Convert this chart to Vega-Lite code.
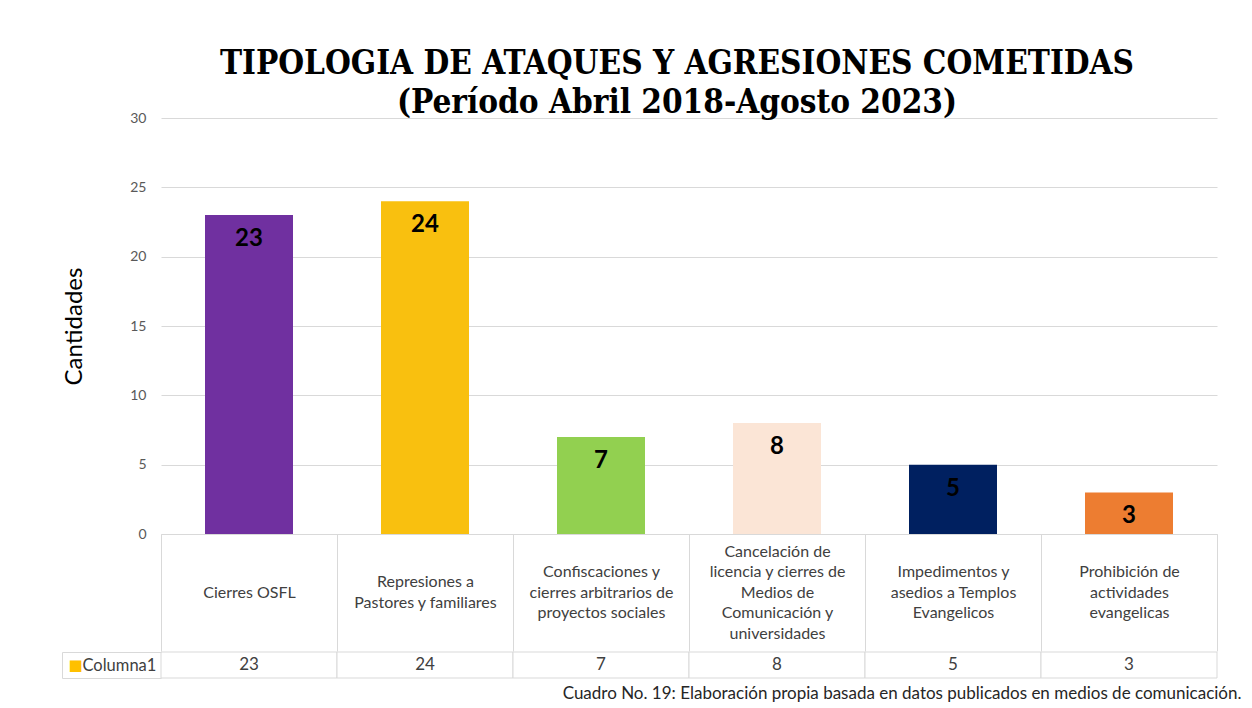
{
  "$schema": "https://vega.github.io/schema/vega-lite/v6.json",
  "padding": {"left": 61, "top": 48, "right": 0, "bottom": 0},
  "background": "white",
  "config": {
    "font": "Lato",
    "view": {"stroke": null},
    "concat": {"spacing": 0}
  },
  "data": {
    "values": [
      {"categoria": "Cierres OSFL", "cantidad": 23, "serie": "Columna1"},
      {"categoria": "Represiones a\nPastores y familiares", "cantidad": 24, "serie": "Columna1"},
      {"categoria": "Confiscaciones y\ncierres arbitrarios de\nproyectos sociales", "cantidad": 7, "serie": "Columna1"},
      {"categoria": "Cancelación de\nlicencia y cierres de\nMedios de\nComunicación y\nuniversidades", "cantidad": 8, "serie": "Columna1"},
      {"categoria": "Impedimentos y\nasedios a Templos\nEvangelicos", "cantidad": 5, "serie": "Columna1"},
      {"categoria": "Prohibición de\nactividades\nevangelicas", "cantidad": 3, "serie": "Columna1"}
    ]
  },
  "spacing": -10,
  "vconcat": [
    {
      "width": 1056,
      "height": 416,
      "title": {
        "text": ["TIPOLOGIA DE ATAQUES Y AGRESIONES COMETIDAS", "(Período Abril 2018-Agosto 2023)"],
        "anchor": "middle",
        "font": "DejaVu Serif Condensed",
        "fontWeight": "bold",
        "fontSize": 33,
        "lineHeight": 39,
        "color": "black",
        "offset": -9,
        "dx": -12
      },
      "encoding": {
        "x": {
          "field": "categoria",
          "type": "nominal",
          "sort": null,
          "scale": {"paddingInner": 0, "paddingOuter": 0},
          "axis": {
            "title": null,
            "labelAngle": 0,
            "labelExpr": "split(datum.label, '\\n')",
            "labelBaseline": "middle",
            "labelPadding": -59,
            "labelFontSize": 16,
            "labelColor": "#404040",
            "labelLineHeight": 20.5,
            "labelOverlap": false,
            "labelLimit": 0,
            "tickBand": "extent",
            "tickSize": 117,
            "tickColor": "#D9D9D9",
            "domainColor": "#D9D9D9",
            "encoding": {
              "labels": {
                "dy": {"value": {"expr": "-(length(split(datum.value, '\\n')) - 1) * 10.25"}}
              }
            }
          }
        }
      },
      "layer": [
        {
          "mark": {"type": "bar", "width": {"band": 0.5}},
          "encoding": {
            "y": {
              "field": "cantidad",
              "type": "quantitative",
              "scale": {"domain": [0, 30], "nice": false},
              "axis": {
                "title": "Cantidades",
                "titleFontSize": 24,
                "titleFontWeight": "normal",
                "titleColor": "#000000",
                "titlePadding": 43,
                "values": [0, 5, 10, 15, 20, 25, 30],
                "domain": false,
                "ticks": false,
                "labelPadding": 15,
                "labelFontSize": 14,
                "labelColor": "#595959",
                "grid": true,
                "gridColor": "#D9D9D9"
              }
            },
            "color": {
              "field": "categoria",
              "type": "nominal",
              "sort": null,
              "legend": null,
              "scale": {
                "range": ["#7030A0", "#F9C00F", "#92D050", "#FBE5D6", "#002060", "#ED7D31"]
              }
            }
          }
        },
        {
          "mark": {"type": "text", "baseline": "middle", "dy": 24, "fontSize": 24, "fontWeight": "bold", "color": "#000000"},
          "encoding": {
            "y": {"field": "cantidad", "type": "quantitative"},
            "text": {"field": "cantidad", "type": "quantitative"}
          }
        }
      ]
    },
    {
      "width": 1056,
      "height": 26,
      "title": {
        "text": "Cuadro No. 19: Elaboración propia basada en datos publicados en medios de comunicación.",
        "orient": "bottom",
        "anchor": "end",
        "fontSize": 17,
        "fontWeight": "normal",
        "color": "#262626",
        "offset": 7,
        "dx": 24
      },
      "encoding": {
        "x": {
          "field": "categoria",
          "type": "nominal",
          "sort": null,
          "scale": {"paddingInner": 0, "paddingOuter": 0},
          "axis": null
        }
      },
      "resolve": {"axis": {"y": "independent"}},
      "layer": [
        {
          "mark": {"type": "rect", "fill": "white", "stroke": "#D9D9D9", "strokeWidth": 1},
          "encoding": {
            "y": {
              "field": "serie",
              "type": "nominal",
              "scale": {"paddingInner": 0, "paddingOuter": 0},
              "axis": {
                "orient": "left",
                "title": null,
                "labelAlign": "left",
                "labelBaseline": "middle",
                "labelPadding": -20,
                "labelFontSize": 16.5,
                "labelColor": "#404040",
                "tickBand": "extent",
                "tickSize": 99,
                "tickColor": "#D9D9D9",
                "domain": false
              }
            }
          }
        },
        {
          "mark": {"type": "text", "fontSize": 17, "color": "#404040"},
          "encoding": {
            "y": {
              "field": "serie",
              "type": "nominal",
              "axis": {
                "orient": "left",
                "offset": 99,
                "title": null,
                "ticks": false,
                "domain": true,
                "domainColor": "#D9D9D9",
                "labelExpr": "'■'",
                "labelColor": "#FFC000",
                "labelAlign": "left",
                "labelBaseline": "middle",
                "labelPadding": -6,
                "labelFontSize": 15,
                "labelFont": "DejaVu Sans"
              }
            },
            "text": {"field": "cantidad", "type": "quantitative"}
          }
        }
      ]
    }
  ]
}
